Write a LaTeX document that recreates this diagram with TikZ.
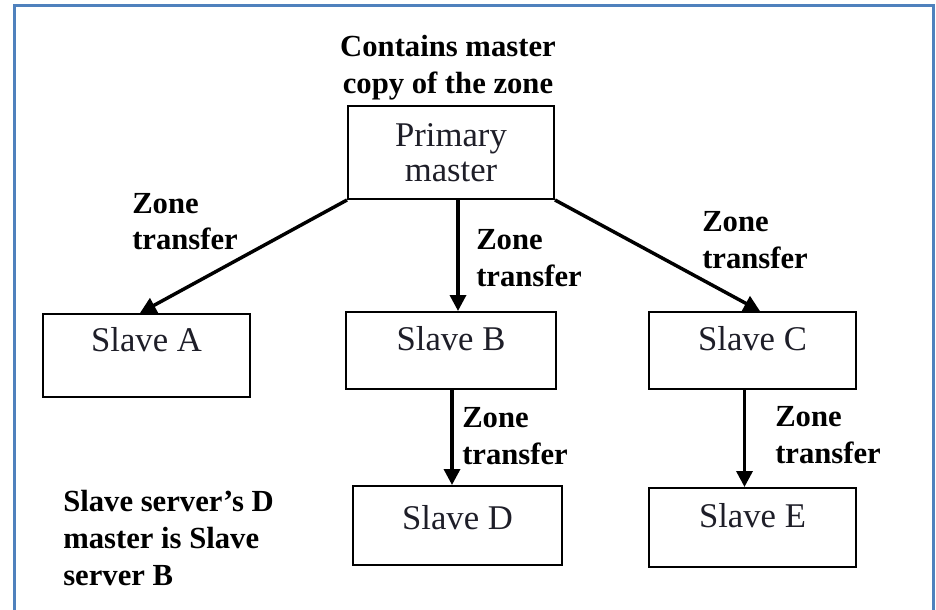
\documentclass[tikz,border=0pt]{standalone}
\usepackage{fontspec}
\setmainfont{Liberation Serif}
\usetikzlibrary{arrows.meta,calc}
\definecolor{frameblue}{RGB}{79,129,189}
\definecolor{boxtext}{RGB}{30,30,40}
\tikzset{
  box/.style={draw=black, line width=1.5pt, fill=white, inner sep=0pt,
    font=\fontsize{26}{26}\selectfont, text=boxtext, align=center,
    text height=10pt, text depth=10pt},
  lbl/.style={inner sep=0pt, font=\fontsize{23}{27.5}\selectfont\bfseries, align=left},
  flow/.style={line width=2.6pt, -{Triangle[length=12pt,width=12pt]}},
  frameline/.style={line width=2.25pt, draw=frameblue}
}
\begin{document}
\begin{tikzpicture}[x=0.75pt,y=-0.75pt]
\useasboundingbox (0,0) rectangle (936,610);
\draw[frameline] (14,610) -- (14,6) -- (933,6) -- (933,610);

\node[box, minimum width=154.5pt, minimum height=69.75pt, text height={}, text depth={}] (P) at (451,152.5) {Primary\\master};
\node[box, minimum width=155.25pt, minimum height=62.25pt, text height=8pt, text depth=14pt] (A) at (146.5,355.5) {Slave A};
\node[box, minimum width=157.5pt, minimum height=57.75pt] (B) at (451,350.5) {Slave B};
\node[box, minimum width=155.25pt, minimum height=57.75pt] (C) at (752.5,350.5) {Slave C};
\node[box, minimum width=156.75pt, minimum height=59.25pt, text height=13pt, text depth=7pt] (D) at (457.5,525.5) {Slave D};
\node[box, minimum width=155.25pt, minimum height=59.25pt] (E) at (752.5,527.5) {Slave E};

\node[lbl, align=center] (title) at (448,68) {Contains master\\copy of the zone};
\node[lbl, anchor=west] (tA) at (132,221.5) {Zone\\transfer};
\node[lbl, anchor=west] (tB) at (476,258) {Zone\\transfer};
\node[lbl, anchor=west] (tC) at (702,240) {Zone\\transfer};
\node[lbl, anchor=west] (tD) at (462,436) {Zone\\transfer};
\node[lbl, anchor=west] (tE) at (775,435) {Zone\\transfer};
\node[lbl, anchor=west] (note) at (63,538) {Slave server’s D\\master is Slave\\server B};

\draw[flow] (P.south west) -- ([xshift=-4.9pt]A.north);
\draw[flow] ([xshift=5.25pt]P.south) -- ([xshift=5.25pt]P.south |- B.north);
\draw[flow] (P.south east) -- ([xshift=5.6pt]C.north);
\draw[flow] ([xshift=0.75pt]B.south) -- ([xshift=0.75pt]B.south |- D.north);
\draw[flow] ([xshift=-6pt]C.south) -- ([xshift=-6pt]C.south |- E.north);
\end{tikzpicture}
\end{document}
